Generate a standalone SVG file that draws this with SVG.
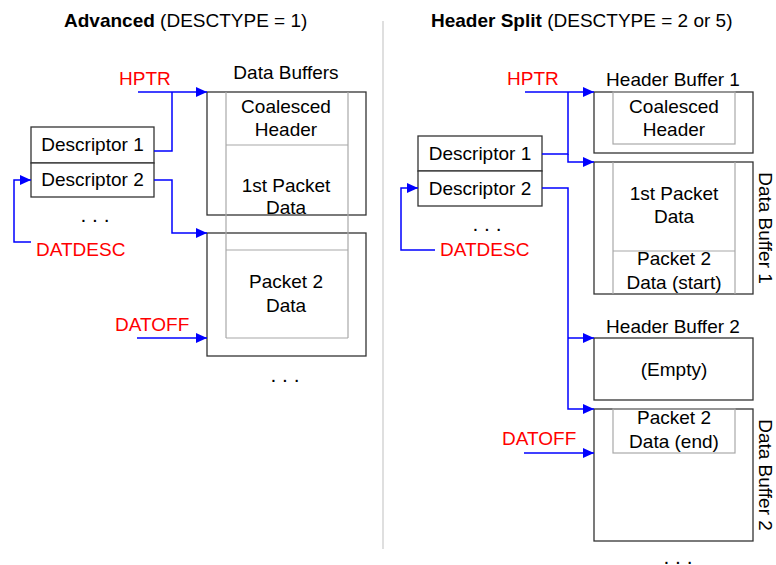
<svg xmlns="http://www.w3.org/2000/svg" width="776" height="565" viewBox="0 0 776 565">
<style>
text{font-family:"Liberation Sans",Arial,sans-serif;font-size:19px;fill:#000}
.c{text-anchor:middle}
.r{fill:#ff0000}
.b{font-weight:bold}
.d{font-size:21px}
.box{fill:#fff;stroke:#333;stroke-width:1.3}
.in{fill:none;stroke:#a8a8a8;stroke-width:1.2}
.ln{fill:none;stroke:#0000ff;stroke-width:1.5}
.div{stroke:#d4d4d4;stroke-width:1.5}
</style>
<defs>
<marker id="ah" markerUnits="userSpaceOnUse" markerWidth="12" markerHeight="10" refX="11" refY="5" orient="auto">
<path d="M0,0 L11,5 L0,10 Z" fill="#0000ff"/>
</marker>
</defs>
<rect width="776" height="565" fill="#fff"/>
<text x="64" y="27"><tspan class="b">Advanced</tspan> (DESCTYPE = 1)</text>
<text x="431" y="27"><tspan class="b">Header Split</tspan> (DESCTYPE = 2 or 5)</text>
<line class="div" x1="383" y1="21" x2="383" y2="549"/>

<!-- Left side -->
<g id="left-descriptors">
<rect class="box" x="31" y="127" width="123" height="36"/>
<rect class="box" x="31" y="163" width="123" height="34"/>
<text class="c" x="92.5" y="151">Descriptor 1</text>
<text class="c" x="92.5" y="186">Descriptor 2</text>
<text class="c d" x="95" y="222">. . .</text>
</g>
<g id="left-buffer1">
<text class="c" x="286" y="79">Data Buffers</text>
<rect class="box" x="207" y="92" width="159" height="123"/>
<text class="c" x="286" y="113">Coalesced</text>
<text class="c" x="286" y="136">Header</text>
<text class="c" x="286" y="192">1st Packet</text>
<text class="c" x="286" y="214">Data</text>
</g>
<g id="left-buffer2">
<rect class="box" x="207" y="233" width="159" height="123"/>
<text class="c" x="286" y="288">Packet 2</text>
<text class="c" x="286" y="312">Data</text>
<text class="c d" x="285" y="382">. . .</text>
</g>
<g id="left-column">
<line class="in" x1="226" y1="92" x2="226" y2="338"/>
<line class="in" x1="348" y1="92" x2="348" y2="338"/>
<line class="in" x1="226" y1="145" x2="348" y2="145"/>
<line class="in" x1="226" y1="250" x2="348" y2="250"/>
<line class="in" x1="226" y1="338" x2="348" y2="338"/>
</g>
<g id="left-labels">
<text class="r" x="119" y="85">HPTR</text>
<text class="r" x="36" y="256">DATDESC</text>
<text class="r" x="115" y="331">DATOFF</text>
</g>

<!-- Right side -->
<g id="right-descriptors">
<rect class="box" x="418" y="136" width="124" height="35"/>
<rect class="box" x="418" y="171" width="124" height="35"/>
<text class="c" x="480" y="160">Descriptor 1</text>
<text class="c" x="480" y="195">Descriptor 2</text>
<text class="c d" x="487" y="231">. . .</text>
</g>
<g id="header-buffer-1">
<text class="c" x="673" y="86">Header Buffer 1</text>
<rect class="box" x="594" y="92" width="159" height="61"/>
<rect class="in" x="613" y="92" width="122" height="52"/>
<text class="c" x="674" y="113">Coalesced</text>
<text class="c" x="674" y="136">Header</text>
</g>
<g id="data-buffer-1">
<rect class="box" x="594" y="162" width="159" height="132"/>
<line class="in" x1="613" y1="162" x2="613" y2="294"/>
<line class="in" x1="735" y1="162" x2="735" y2="294"/>
<line class="in" x1="613" y1="251" x2="735" y2="251"/>
<text class="c" x="674" y="200">1st Packet</text>
<text class="c" x="674" y="223">Data</text>
<text class="c" x="674" y="265">Packet 2</text>
<text class="c" x="674" y="289">Data (start)</text>
<text class="c" transform="translate(759,228) rotate(90)" x="0" y="0">Data Buffer 1</text>
</g>
<g id="header-buffer-2">
<text class="c" x="673" y="333">Header Buffer 2</text>
<rect class="box" x="594" y="338" width="159" height="62"/>
<text class="c" x="674" y="376">(Empty)</text>
</g>
<g id="data-buffer-2">
<rect class="box" x="594" y="409" width="159" height="132"/>
<rect class="in" x="613" y="409" width="122" height="44"/>
<text class="c" x="674" y="424">Packet 2</text>
<text class="c" x="674" y="448">Data (end)</text>
<text class="c" transform="translate(759,475) rotate(90)" x="0" y="0">Data Buffer 2</text>
<text class="c d" x="678" y="564">. . .</text>
</g>
<g id="right-labels">
<text class="r" x="507" y="85">HPTR</text>
<text class="r" x="440" y="256">DATDESC</text>
<text class="r" x="502" y="445">DATOFF</text>
</g>

<g id="connectors">
<!-- left -->
<path class="ln" d="M138,92 H207" marker-end="url(#ah)"/>
<path class="ln" d="M154,151 H172 V92"/>
<path class="ln" d="M154,180 H172 V233 H207" marker-end="url(#ah)"/>
<path class="ln" d="M31,242 H14 V180 H31" marker-end="url(#ah)"/>
<path class="ln" d="M137,338 H207" marker-end="url(#ah)"/>
<!-- right -->
<path class="ln" d="M525,92 H594" marker-end="url(#ah)"/>
<path class="ln" d="M542,154 H568 V92"/>
<path class="ln" d="M568,154 V162 H594" marker-end="url(#ah)"/>
<path class="ln" d="M542,188 H568 V409 H594" marker-end="url(#ah)"/>
<path class="ln" d="M568,338 H594" marker-end="url(#ah)"/>
<path class="ln" d="M435,250 H401 V188 H418" marker-end="url(#ah)"/>
<path class="ln" d="M524,453 H594" marker-end="url(#ah)"/>
</g>
</svg>
